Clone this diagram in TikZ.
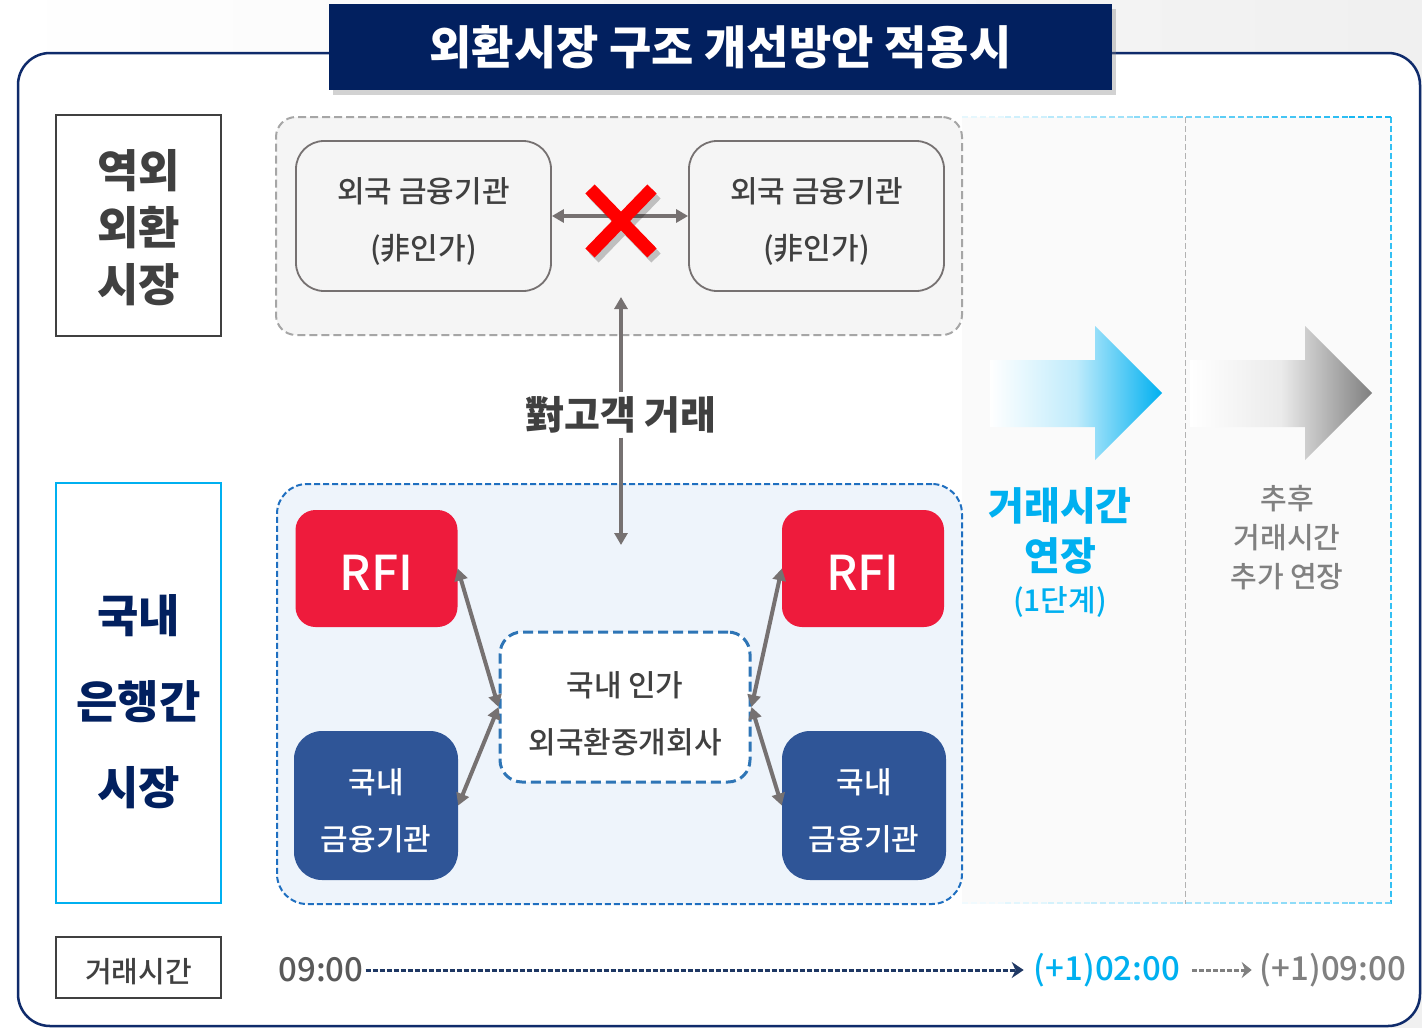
\documentclass[tikz,border=0pt]{standalone}
\usepackage{fontspec}
\setmainfont{Noto Sans CJK KR}
\newfontfamily\krm{Noto Sans CJK KR Medium}
\usetikzlibrary{arrows.meta,shadows,calc}
\newcommand\tstr[1]{\rule{0pt}{#1}}
\definecolor{navy}{HTML}{02205F}
\definecolor{framec}{HTML}{0F2B6B}
\definecolor{dg}{HTML}{404040}
\definecolor{cyanc}{HTML}{00B0F0}
\definecolor{redc}{HTML}{EE1B3C}
\definecolor{bankc}{HTML}{2F5597}
\definecolor{argrey}{HTML}{767171}
\definecolor{dashblue}{HTML}{1F6FC0}
\definecolor{ctrblue}{HTML}{2E75B6}
\definecolor{lightblue}{HTML}{EEF4FB}
\definecolor{boxgrey}{HTML}{F5F5F5}
\definecolor{tgrey}{HTML}{595959}
\definecolor{lgrey}{HTML}{808080}
\definecolor{tlnavy}{HTML}{1F3864}
\tikzset{
  lbl/.style={draw, line width=2.5pt, minimum width=165pt, inner sep=0pt, align=center, font={\bfseries\fontsize{45}{57}\selectfont}},
  fbox/.style={draw=argrey, line width=1.8pt, fill=boxgrey, rounded corners=28pt, minimum width=255pt, minimum height=150pt, align=center, text=dg, font={\krm\fontsize{30}{57}\selectfont}},
  rfibox/.style={fill=redc, rounded corners=20pt, minimum width=162pt, minimum height=117pt, text=white, font={\krm\fontsize{48}{57}\selectfont}},
  bankbox/.style={fill=bankc, rounded corners=28pt, minimum width=164pt, minimum height=149pt, align=center, text=white, font={\krm\fontsize{30}{57}\selectfont}},
  dbl/.style={draw=argrey, line width=4pt, {Triangle[length=12pt,width=13pt]}-{Triangle[length=12pt,width=13pt]}},
  sgl/.style={draw=argrey, line width=4pt, -{Triangle[length=12pt,width=13pt]}},
  tl/.style={inner sep=2pt, font={\krm\fontsize{33}{36}\selectfont}},
}
\begin{document}
\begin{tikzpicture}[x=1pt,y=-1pt]
\useasboundingbox (0,0) rectangle (1422,1028);
\shade[left color=white, right color=black!6] (0,0) rectangle (1422,1028);
% outer frame
\draw[framec, line width=2.5pt, rounded corners=32pt, fill=white] (18,53) rectangle (1420,1026);
% right area
\fill[black!2] (962,117) rectangle (1392,904);
\draw[black!30, dash pattern=on 6pt off 3pt, line width=1pt] (1185,117) -- (1185,904);
\draw[cyanc!80, dash pattern=on 6pt off 3pt, line width=1.8pt] (1391,117) -- (1391,904);
\foreach \i in {0,...,9}{
  \pgfmathsetmacro{\c}{10+\i*9}
  \draw[cyanc!\c, dash pattern=on 6pt off 3pt, line width=1.8pt] ({962+\i*43},117) -- ({962+(\i+1)*43},117);
  \draw[cyanc!\c!white!60, dash pattern=on 6pt off 3pt, line width=1.4pt] ({962+\i*43},903) -- ({962+(\i+1)*43},903);
}
% title
\node[fill=navy, minimum width=783pt, minimum height=86pt, text=white, font={\bfseries\fontsize{46}{50}\selectfont}, drop shadow={opacity=0.35, shadow xshift=4pt, shadow yshift=-5pt}] (title) at (720.5,47) {외환시장 구조 개선방안 적용시};
% left labels
\node[lbl, draw=dg, text=dg, minimum height=221pt] (l1) at (138.5,225.5) {\tstr{42pt}역외\\외환\\시장};
\node[lbl, draw=cyanc, text=navy, minimum height=420pt, font={\bfseries\fontsize{45}{86}\selectfont}] (l2) at (138.5,693) {\tstr{55pt}국내\\은행간\\시장};
\node[lbl, draw=dg, text=dg, minimum height=61pt, font={\krm\fontsize{29}{32}\selectfont}] (l3) at (138.5,967.5) {\tstr{33pt}거래시간};
% offshore group
\node[draw=black!35, dash pattern=on 8pt off 4pt, line width=2pt, fill=black!4, rounded corners=20pt, minimum width=686pt, minimum height=218pt] (grp) at (619,226) {};
\node[fbox] (fa) at (423.5,216) {\tstr{36pt}외국 금융기관\\(非인가)};
\node[fbox] (fb) at (816.5,216) {\tstr{36pt}외국 금융기관\\(非인가)};
\draw[dbl] (fa.east) -- (fb.west);
% red X
\begin{scope}[line width=13pt]
\draw[black, opacity=0.22] (594,194) -- (656,258) (656,194) -- (594,258);
\draw[red] (590,189) -- (652,253) (652,189) -- (590,253);
\end{scope}
% customer trade
\node[font={\bfseries\fontsize{39}{40}\selectfont}, text=dg, fill=white, inner sep=4pt] (cust) at (621,415) {對고객 거래};
\coordinate (upTip) at (621,297);
\coordinate (dnTip) at (621,545);
\draw[sgl] (cust.north) -- (upTip);
% domestic group
\node[draw=dashblue, dash pattern=on 6pt off 3pt, line width=2pt, fill=lightblue, rounded corners=30pt, minimum width=685pt, minimum height=420pt] (dom) at (619.5,694) {};
\draw[sgl] (cust.south) -- (dnTip);
\node[rfibox] (r1) at (376.5,568.5) {\tstr{43pt}RFI};
\node[rfibox] (r2) at (863,568.5) {\tstr{43pt}RFI};
\node[bankbox] (b1) at (376,805.5) {\tstr{36pt}국내\\금융기관};
\node[bankbox] (b2) at (864,805.5) {\tstr{36pt}국내\\금융기관};
\node[draw=ctrblue, dash pattern=on 10pt off 5pt, line width=3pt, fill=white, rounded corners=22pt, minimum width=250pt, minimum height=150pt, align=center, text=dg, font={\krm\fontsize{30}{57}\selectfont}] (ctr) at (625,707) {\tstr{39pt}국내 인가\\외국환중개회사};
\draw[dbl] (ctr.west) -- (r1.east);
\draw[dbl] (ctr.west) -- (b1.east);
\draw[dbl] (ctr.east) -- (r2.west);
\draw[dbl] (ctr.east) -- (b2.west);
% gradient arrows
\shade[left color=white, right color=cyanc, middle color=cyanc!25] (990,360) -- (1095,360) -- (1095,326) -- (1162,393) -- (1095,460) -- (1095,427) -- (990,427) -- cycle;
\shade[left color=white, right color=black!50, middle color=black!8] (1190,360) -- (1305,360) -- (1305,326) -- (1372,393) -- (1305,460) -- (1305,427) -- (1190,427) -- cycle;
\node[text=cyanc, align=center, font={\bfseries\fontsize{39}{50}\selectfont}] (ext1) at (1060,531) {거래시간\\연장};
\node[text=cyanc, font={\krm\fontsize{30}{32}\selectfont}] (ext1b) at (1060,602) {(1단계)};
\node[text=lgrey, align=center, font={\krm\fontsize{29}{39}\selectfont}] (ext2) at (1287,538) {추후\\거래시간\\추가 연장};
% timeline
\node[tl, text=tgrey] (t0) at (321,970) {09:00};
\node[tl, text=cyanc] (t1) at (1107,970) {(+1)02:00};
\node[tl, text=lgrey] (t2) at (1333,970) {(+1)09:00};
\draw[tlnavy, line width=3pt, dash pattern=on 5pt off 2pt, -{Stealth[length=12pt,width=16pt]}, shorten >=8pt] (t0.east) -- (t1.west);
\draw[lgrey, line width=3pt, dash pattern=on 5pt off 2pt, -{Stealth[length=10pt,width=16pt]}, shorten >=6pt, shorten <=10pt] (t1.east) -- (t2.west);
\end{tikzpicture}
\end{document}
